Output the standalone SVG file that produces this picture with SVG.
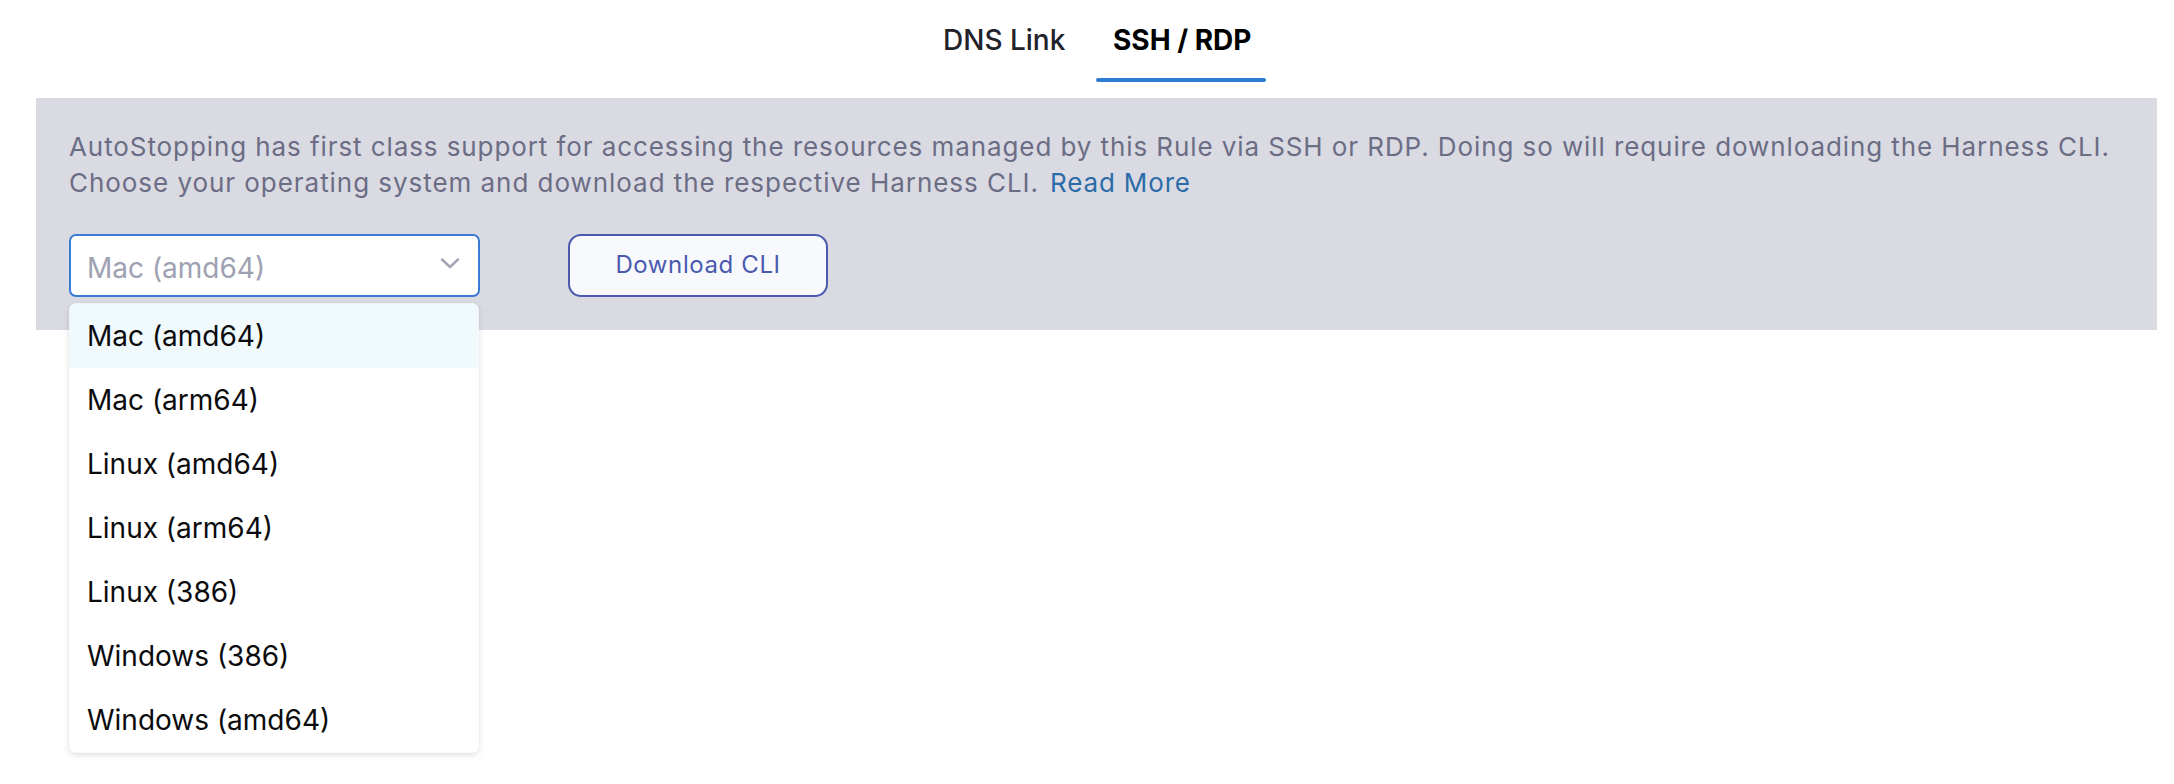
<svg xmlns="http://www.w3.org/2000/svg" width="2174" height="784" viewBox="0 0 2174 784">
<style>
text{font-family:Inter,"Noto Sans","Liberation Sans",sans-serif}
.tab{font-size:28px;fill:#22222a;font-weight:500}
.tabOn{font-size:28px;fill:#000;font-weight:700}
.desc{font-size:26px;fill:#6b6d85}
.link{font-size:26px;fill:#2b6ca8}
.item{font-size:28px;fill:#0b0b0d}
.ph{font-size:28px;fill:#9ea1b1}
.btn{font-size:24px;fill:#4a5aae;letter-spacing:0.6px}
</style>
<defs>
<filter id="sh" x="-10%" y="-10%" width="120%" height="120%">
<feDropShadow dx="0" dy="2" stdDeviation="3" flood-color="#000" flood-opacity="0.15"/>
</filter>
</defs>
<rect width="2174" height="784" fill="#fff"/>
<g id="tabs">
<text class="tab" x="943" y="50">DNS Link</text>
<text class="tabOn" x="1113" y="50">SSH / RDP</text>
<rect x="1096" y="78" width="170" height="4" rx="2" fill="#2c7bd0"/>
</g>
<g id="panel">
<rect x="36" y="98" width="2121" height="232" fill="#dadae3"/>
<text class="desc" x="69" y="156" textLength="2040" lengthAdjust="spacing">AutoStopping has first class support for accessing the resources managed by this Rule via SSH or RDP. Doing so will require downloading the Harness CLI.</text>
<text class="desc" x="69" y="192" textLength="969" lengthAdjust="spacing">Choose your operating system and download the respective Harness CLI.</text>
<text class="link" x="1050" y="192" textLength="140" lengthAdjust="spacing">Read More</text>
</g>
<g id="select">
<rect x="70" y="235" width="409" height="61" rx="6" fill="#fff" stroke="#3b7bd5" stroke-width="2"/>
<text class="ph" x="87" y="278">Mac (amd64)</text>
<path d="M442 259.5 L450 267 L458 259.5" fill="none" stroke="#a3a6b6" stroke-width="2.5" stroke-linecap="round" stroke-linejoin="round"/>
</g>
<g id="download">
<rect x="569" y="235" width="258" height="61" rx="12" fill="#f8f9fc" stroke="#4a5aae" stroke-width="2"/>
<text class="btn" x="698" y="273" text-anchor="middle">Download CLI</text>
</g>
<g id="menu">
<rect x="69.5" y="303.5" width="409" height="449" rx="6" fill="#fff" filter="url(#sh)"/>
<path d="M69.5 368 V309.5 a6 6 0 0 1 6 -6 H472.5 a6 6 0 0 1 6 6 V368 Z" fill="#f0f9fc"/>
<text class="item" x="87" y="346">Mac (amd64)</text>
<text class="item" x="87" y="410">Mac (arm64)</text>
<text class="item" x="87" y="474">Linux (amd64)</text>
<text class="item" x="87" y="538">Linux (arm64)</text>
<text class="item" x="87" y="602">Linux (386)</text>
<text class="item" x="87" y="666">Windows (386)</text>
<text class="item" x="87" y="730">Windows (amd64)</text>
</g>
</svg>
